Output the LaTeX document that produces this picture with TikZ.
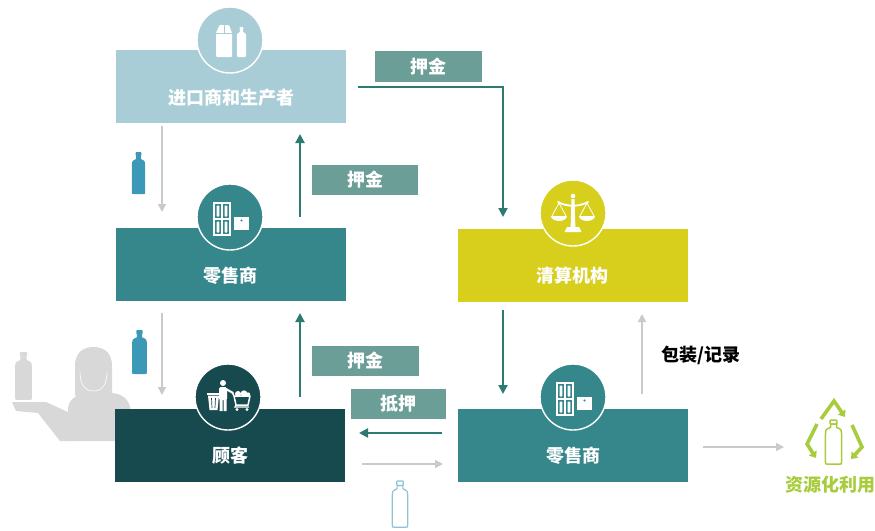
\documentclass[tikz,border=0pt]{standalone}
\usepackage{fontspec}
\setmainfont{Noto Sans CJK SC}
\usetikzlibrary{arrows.meta}

\definecolor{prodblue}{HTML}{A9CDD7}
\definecolor{retail}{HTML}{36878C}
\definecolor{clearing}{HTML}{D8CE1C}
\definecolor{customer}{HTML}{164A4E}
\definecolor{tagteal}{HTML}{6C9E98}
\definecolor{flowteal}{HTML}{2C7A72}
\definecolor{flowgray}{HTML}{CACACA}
\definecolor{bottleblue}{HTML}{3B98B6}
\definecolor{bottleline}{HTML}{8CC4D6}
\definecolor{silhouette}{HTML}{D8D8D8}
\definecolor{recycle}{HTML}{A8CC3C}

\tikzset{
  labelfont/.style={font=\fontsize{18}{21}\selectfont\bfseries},
  stagebox/.style={rectangle, minimum width=230, minimum height=73, inner sep=0},
  badge/.style={circle, minimum size=66, inner sep=0, draw=white, line width=1.4},
  boxtext/.style={labelfont, text=white, inner sep=0},
  tag/.style={rectangle, fill=tagteal, minimum height=30, inner sep=0,
    text=white, labelfont},
  flowmain/.style={draw=flowteal, line width=2, -{Triangle[length=9,width=9]}},
  flowlight/.style={draw=flowgray, line width=1.5, -{Triangle[length=8,width=8]}},
  bottle/.pic={
    \path[pic actions, rounded corners=0.8] (-3,0) rectangle (3,4);
    \path[pic actions] (-2.6,4) -- (-2.6,7) .. controls (-7,9) .. (-7,15)
      -- (-7,40) .. controls (-7,42) .. (-5,42) -- (5,42) .. controls (7,42) .. (7,40)
      -- (7,15) .. controls (7,9) .. (2.6,7) -- (2.6,4) -- cycle;
  },
  shelficon/.pic={
    \draw[white, line width=1.3] (0,0) rectangle (16,32) (8,0) -- (8,32) (0,16) -- (16,16);
    \foreach \bx/\by in {4/2.5, 12/2.5, 4/18.5, 12/18.5}
      \fill[white, rounded corners=0.8] (\bx-1.4,\by) rectangle (\bx+1.4,\by+11);
    \fill[white] (20,14) rectangle (35,27);
    \fill[retail] (27.5,17.5) circle (1.1);
  },
  scalesicon/.pic={
    \fill[white] (0,-17) circle (2.3);
    \fill[white] (-1.5,-14) -- (1.5,-14) -- (2.4,14) -- (-2.4,14) -- cycle;
    \fill[white] (-6,14) -- (6,14) -- (8.5,19) -- (-8.5,19) -- cycle;
    \draw[white, line width=1.8, line cap=round] (-15,-11) .. controls (-6,-6) and (6,-6) .. (15,-11);
    \draw[white, line width=0.8] (-14,-10) -- (-21,3) (-14,-10) -- (-7,3)
      (14,-10) -- (7,3) (14,-10) -- (21,3);
    \fill[white] (-22,3) arc (180:0:8 and 5) -- cycle;
    \fill[white] (6,3) arc (180:0:8 and 5) -- cycle;
  },
  shopperhicon/.pic={
    % shopper
    \fill[white] (-5,-14) circle (3);
    \fill[white, rounded corners=1.5] (-9,-10) rectangle (-1,3);
    \fill[white] (-8.5,2) rectangle (-5.5,14) (-4.5,2) rectangle (-1.5,14);
    \draw[white, line width=2, line cap=round] (-2,-8) -- (5,-4);
    % bin
    \fill[white] (-21,-4.5) rectangle (-8,-2.5);
    \fill[white] (-20,-1.5) -- (-9,-1.5) -- (-10.5,13) -- (-18.5,13) -- cycle;
    \draw[customer, line width=0.7] (-16.5,1) -- (-16,11) (-12.5,1) -- (-13,11);
    % cart
    \fill[white] (10,-3) circle (3) (16,-3.5) circle (3.2) (20,-2.5) circle (2.2);
    \draw[white, line width=1.5, line join=round] (4,-5) -- (6,-1) -- (22,-1) -- (20,8) -- (8,8) -- (6,-1);
    \draw[white, line width=1.3] (8,8) -- (7,10) -- (21,10);
    \fill[white] (9,12.5) circle (1.6) (19,12.5) circle (1.6);
  },
}

\begin{document}
\begin{tikzpicture}[x=1pt, y=-1pt]
\useasboundingbox[fill=white] (0,0) rectangle (875,530);

% grey figure holding a bottle on a tray
\begin{scope}[fill=silhouette]
  \fill (68,441) -- (68,410) .. controls (68,398) and (78,394) .. (90,393)
    -- (112,393) .. controls (125,394) and (131,402) .. (131,415) -- (131,441) -- cycle;
  \fill (12,402) -- (46,402) -- (72,414) -- (72,441) -- (60,441) -- (38,413) -- (16,411) -- cycle;
  \fill (86,383) rectangle (100,396);
  \fill (75,396) -- (75,366) .. controls (75,351) and (85,347) .. (93.5,347)
    .. controls (102,347) and (112,351) .. (112,366) -- (112,396) -- cycle;
  \draw[white, line width=0.6] (80,372) .. controls (80,386) and (86,391) .. (93.5,391)
    .. controls (101,391) and (107,386) .. (107,372);
\end{scope}
\pic[fill=silhouette, xscale=1.2, yscale=1.14] at (23.5,352) {bottle};

% blue bottles travelling down the supply chain
\pic[fill=bottleblue, xscale=0.95] at (138.5,152) {bottle};
\pic[fill=bottleblue, xscale=1.05, yscale=1.05] at (139.5,330) {bottle};
% empty bottle returned to the store
\pic[draw=bottleline, fill=none, line width=1.2, xscale=1.1, yscale=1.1] at (400,481) {bottle};

% stage boxes
\node[stagebox, fill=prodblue] (prod) at (231,86.5) {};
\node[stagebox, fill=retail] (retailA) at (230.5,264) {};
\node[stagebox, fill=clearing] (clear) at (572.5,265.5) {};
\node[stagebox, fill=customer] (cust) at (230,445.5) {};
\node[stagebox, fill=retail] (retailB) at (573,445.5) {};

% icon badges
\node[badge, fill=prodblue] (prodbadge) at (230,40) {};
\node[badge, fill=retail] (retailAbadge) at (230,217) {};
\node[badge, fill=clearing] (clearbadge) at (573,213) {};
\node[badge, fill=customer] (custbadge) at (228,397) {};
\node[badge, fill=retail] (retailBbadge) at (573,397) {};

% carton and bottle
\fill[white, rounded corners=1] (216,57) -- (216,33) -- (219.5,25) -- (229,25) -- (232,33) -- (232,57) -- cycle;
\draw[prodblue, line width=0.8] (216,33) -- (232,33) (224,25) -- (224,33);
\pic[fill=white, xscale=0.66, yscale=0.72] at (241.5,27) {bottle};
\pic at (214,203) {shelficon};
\pic at (557,383) {shelficon};
\pic at (573,213) {scalesicon};
\pic at (228,397) {shopperhicon};

% box captions
\node[boxtext] (prodtext) at ([yshift=-11]prod.center) {进口商和生产者};
\node[boxtext] (retailAtext) at ([yshift=-12]retailA.center) {零售商};
\node[boxtext] (cleartext) at ([yshift=-10]clear.center) {清算机构};
\node[boxtext] (custtext) at ([yshift=-10]cust.center) {顾客};
\node[boxtext] (retailBtext) at ([yshift=-10]retailB.center) {零售商};

% flow end points
\coordinate (p1) at (358,87);   \coordinate (p2) at (503,217);
\coordinate (a1) at (162,126);  \coordinate (a2) at (162,212);
\coordinate (b1) at (300,217);  \coordinate (b2) at (300,134);
\coordinate (c1) at (162,313);  \coordinate (c2) at (162,395);
\coordinate (d1) at (300,397);  \coordinate (d2) at (300,313);
\coordinate (e1) at (503,310);  \coordinate (e2) at (503,394);
\coordinate (f1) at (642,394);  \coordinate (f2) at (642,314);
\coordinate (g1) at (442,433);  \coordinate (g2) at (359,433);
\coordinate (h1) at (362,464);  \coordinate (h2) at (443,464);
\coordinate (k1) at (703,447);  \coordinate (k2) at (784,447);

\draw[flowmain] (p1) -| (p2);
\draw[flowlight] (a1) -- (a2);
\draw[flowmain] (b1) -- (b2);
\draw[flowlight] (c1) -- (c2);
\draw[flowmain] (d1) -- (d2);
\draw[flowmain] (e1) -- (e2);
\draw[flowlight] (f1) -- (f2);
\draw[flowmain] (g1) -- (g2);
\draw[flowlight] (h1) -- (h2);
\draw[flowlight] (k1) -- (k2);

% deposit tags
\node[tag, minimum width=107, minimum height=31] (tagtop) at (428.5,66.5) {押金};
\node[tag, minimum width=106] (tagmid) at (365,180) {押金};
\node[tag, minimum width=107] (taglow) at (365.5,361) {押金};
\node[tag, minimum width=95] (tagrefund) at (398.5,404) {抵押};

\node[labelfont, text=black, inner sep=0] (packlabel) at (701,355) {包装/记录};

% recycling mark
\begin{scope}[draw=recycle, line width=3.6]
  \draw[-{Triangle[length=6,width=9]}] (821,419) -- (834,401) -- (845,417);
  \draw[-{Triangle[length=6,width=9]}] (817,424) -- (807,444) -- (816,458);
  \draw[-{Triangle[length=6,width=9]}] (852,425) -- (862,447) -- (851,459);
\end{scope}
\pic[draw=recycle, fill=none, line width=1.5, xscale=1.15, yscale=1.05] at (833.5,420) {bottle};
\node[labelfont, text=recycle, inner sep=0] (recyclelabel) at (830,485) {资源化利用};
\end{tikzpicture}
\end{document}
